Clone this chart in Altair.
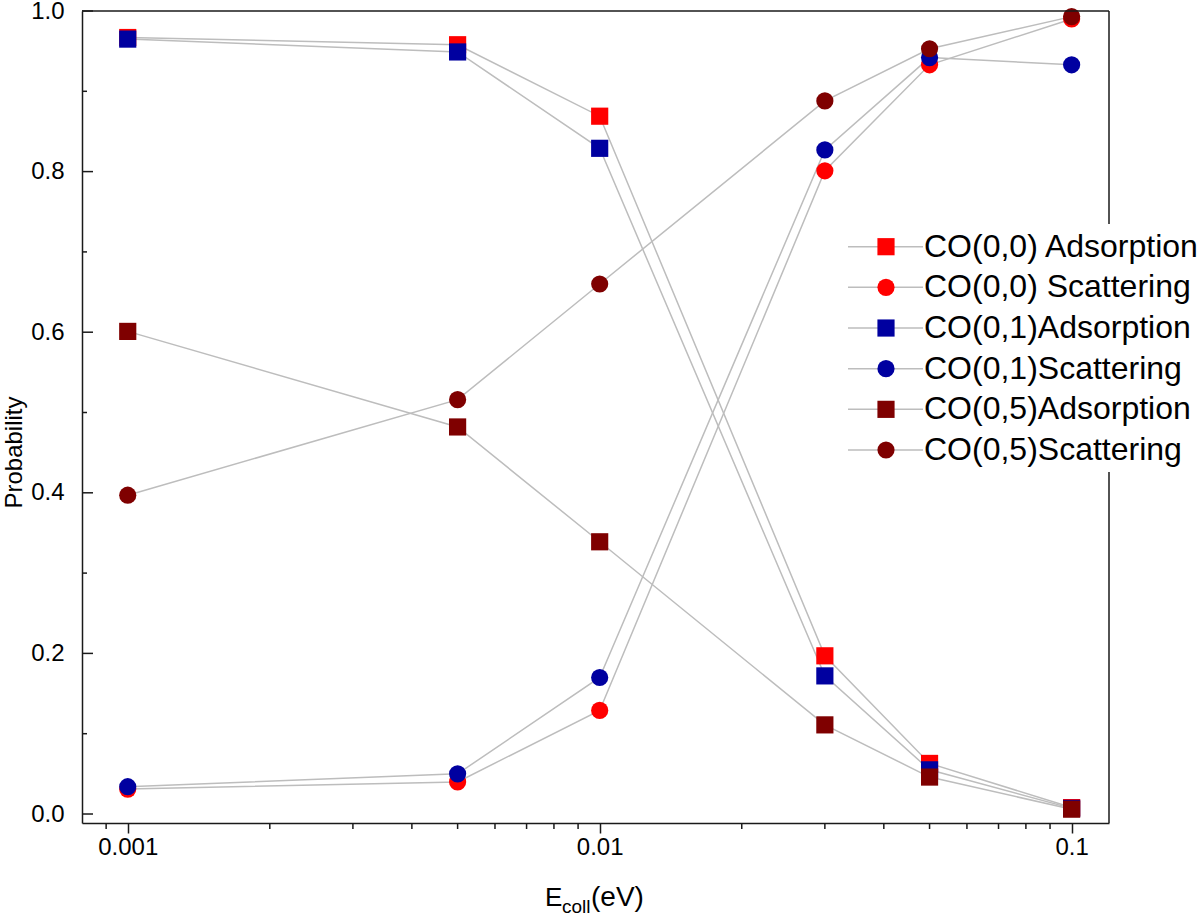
import altair as alt
import pandas as pd

# ---------------- data ----------------
energies = [0.001, 0.005, 0.01, 0.03, 0.05, 0.1]

series_names = [
    "CO(0,0) Adsorption",
    "CO(0,0) Scattering",
    "CO(0,1)Adsorption",
    "CO(0,1)Scattering",
    "CO(0,5)Adsorption",
    "CO(0,5)Scattering",
]
series_kind = ["Adsorption", "Scattering", "Adsorption", "Scattering", "Adsorption", "Scattering"]
series_colors = ["#FF0000", "#FF0000", "#0000A0", "#0000A0", "#7F0000", "#7F0000"]

co00_ads = [0.967, 0.958, 0.869, 0.197, 0.063, 0.008]
co00_sca = [0.031, 0.040, 0.129, 0.801, 0.933, 0.990]
co01_ads = [0.965, 0.949, 0.829, 0.172, 0.055, 0.007]
co01_sca = [0.034, 0.050, 0.170, 0.827, 0.942, 0.933]
co05_ads = [0.601, 0.482, 0.339, 0.111, 0.046, 0.006]
co05_sca = [0.397, 0.516, 0.660, 0.888, 0.953, 0.993]
series_values = [co00_ads, co00_sca, co01_ads, co01_sca, co05_ads, co05_sca]

y_major = [0.0, 0.2, 0.4, 0.6, 0.8, 1.0]
y_minor = [0.1, 0.3, 0.5, 0.7, 0.9]
x_major = [0.001, 0.01, 0.1]
x_minor = [0.0009, 0.002, 0.003, 0.004, 0.005, 0.006, 0.007, 0.008, 0.009,
           0.02, 0.03, 0.04, 0.05, 0.06, 0.07, 0.08, 0.09]

rows = []
for name, kind, vals in zip(series_names, series_kind, series_values):
    for e, p in zip(energies, vals):
        rows.append({"E": e, "P": p, "series": name, "kind": kind})
df = pd.DataFrame(rows)

legend_df = pd.DataFrame({
    "series": series_names,
    "kind": series_kind,
    "idx": list(range(len(series_names))),
})

# ---------------- layout ----------------
W, H = 1027, 812
FONT = "Liberation Sans"
GRAY = "#BDBDBD"
AX = "#1a1a1a"

xscale = alt.Scale(type="log", domain=[0.0008, 0.12], nice=False)
yscale = alt.Scale(domain=[-0.0112, 1.0], nice=False, zero=False)

x_axis = alt.Axis(values=x_major, format="~g", tickSize=10, tickWidth=1.5,
                  labelPadding=2, labelFlush=False, title=None, grid=False)
y_axis = alt.Axis(values=y_major, format=".1f", tickSize=0, labelPadding=18,
                  grid=False, title="Probability", titleX=-68, titleY=441,
                  titleAngle=270, titleBaseline="middle", titleAlign="center")


def X(field="E"):
    return alt.X(f"{field}:Q", scale=xscale, axis=x_axis)


def Y(field="P"):
    return alt.Y(f"{field}:Q", scale=yscale, axis=y_axis)


color_scale = alt.Scale(domain=series_names, range=series_colors)
shape_scale = alt.Scale(domain=["Adsorption", "Scattering"], range=["square", "circle"])

lines = alt.Chart(df).mark_line(color=GRAY, strokeWidth=1.5).encode(
    x=X(), y=Y(), detail="series:N"
)

points = alt.Chart(df).mark_point(filled=True, size=295, opacity=1).encode(
    x=X(), y=Y(),
    color=alt.Color("series:N", scale=color_scale, legend=None),
    shape=alt.Shape("kind:N", scale=shape_scale, legend=None),
)

ymaj = alt.Chart(pd.DataFrame({"P": y_major})).mark_rule(color=AX, strokeWidth=1.5).encode(
    y=Y(), x=alt.value(0), x2=alt.value(11)
)
ymin = alt.Chart(pd.DataFrame({"P": y_minor})).mark_rule(color=AX, strokeWidth=1.5).encode(
    y=Y(), x=alt.value(0), x2=alt.value(5)
)
xmin = alt.Chart(pd.DataFrame({"E": x_minor})).mark_rule(color=AX, strokeWidth=1.5).encode(
    x=X(), y=alt.value(H), y2=alt.value(H + 6)
)

one = pd.DataFrame({"a": [0]})
top_border = alt.Chart(one).mark_rule(color=AX, strokeWidth=1.5).encode(
    x=alt.value(0), x2=alt.value(W), y=alt.value(0)
)
right_border1 = alt.Chart(one).mark_rule(color=AX, strokeWidth=1.5).encode(
    x=alt.value(W), y=alt.value(0), y2=alt.value(213)
)
right_border2 = alt.Chart(one).mark_rule(color=AX, strokeWidth=1.5).encode(
    x=alt.value(W), y=alt.value(461), y2=alt.value(H)
)

# x-axis title with subscript
t_E = alt.Chart(one).mark_text(font=FONT, fontSize=26, align="left", baseline="alphabetic",
                               color="black").encode(
    x=alt.value(463), y=alt.value(895), text=alt.value("E"))
t_sub = alt.Chart(one).mark_text(font=FONT, fontSize=19, align="left", baseline="alphabetic",
                                 color="black").encode(
    x=alt.value(480), y=alt.value(902), text=alt.value("coll"))
t_ev = alt.Chart(one).mark_text(font=FONT, fontSize=28, align="left", baseline="alphabetic",
                                color="black").encode(
    x=alt.value(509), y=alt.value(895), text=alt.value("(eV)"))

main = alt.layer(lines, points, ymaj, ymin, xmin, top_border, right_border1,
                 right_border2, t_E, t_sub, t_ev)

# ---------------- legend ----------------
leg_y = alt.Y("idx:Q", scale=alt.Scale(domain=[0, 5], range=[235.7, 439.0]), axis=None)
leg_line = alt.Chart(legend_df).mark_rule(color=GRAY, strokeWidth=1.5).encode(
    y=leg_y, x=alt.value(766), x2=alt.value(841)
)
leg_pts = alt.Chart(legend_df).mark_point(filled=True, size=295, opacity=1).encode(
    y=leg_y, x=alt.value(804),
    color=alt.Color("series:N", scale=color_scale, legend=None),
    shape=alt.Shape("kind:N", scale=shape_scale, legend=None),
)
leg_txt = alt.Chart(legend_df).mark_text(font=FONT, fontSize=32, align="left",
                                         baseline="middle", color="black").encode(
    y=leg_y, x=alt.value(842), text="series:N"
)
legend = alt.layer(leg_line, leg_pts, leg_txt)

chart = alt.layer(main, legend).resolve_scale(
    y="independent", color="independent", shape="independent"
).properties(
    width=W, height=H,
    autosize=alt.AutoSizeParams(type="none"),
    padding={"left": 82, "top": 11, "right": 91, "bottom": 94},
    background="white",
).configure_view(stroke=None).configure_axis(
    domainColor=AX, domainWidth=1.5, tickColor=AX, labelColor="black",
    titleColor="black", labelFont=FONT, titleFont=FONT, labelFontSize=24,
    titleFontSize=24, titleFontWeight="normal", grid=False,
)

chart.save("out.html", embed_options={"renderer": "svg", "actions": False})
